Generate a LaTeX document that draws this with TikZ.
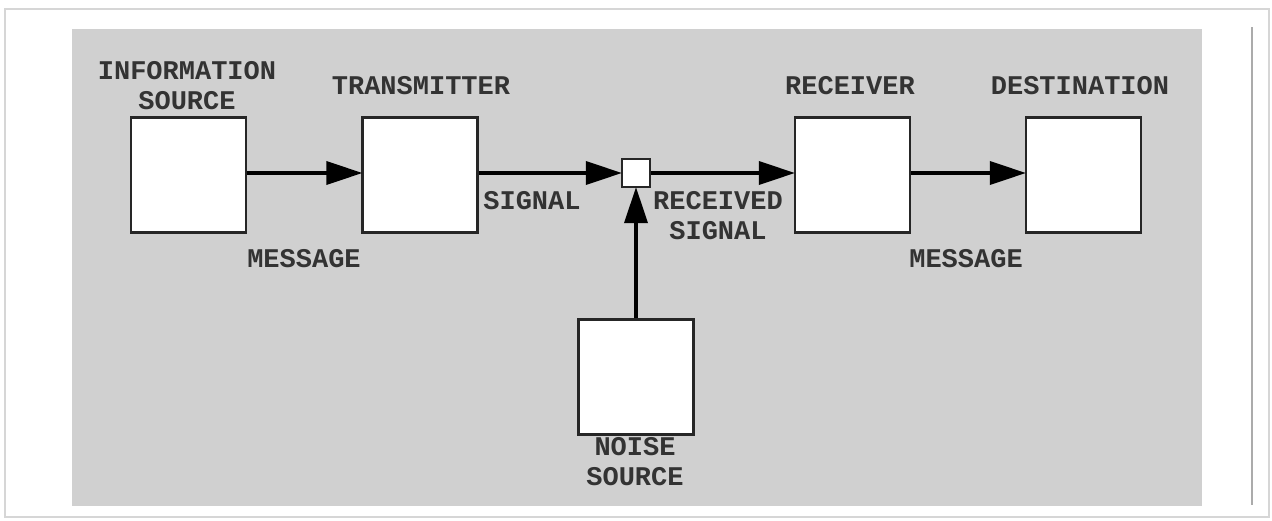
\documentclass[tikz,border=0pt]{standalone}
\usepackage{fontspec}
\setmonofont{Liberation Mono}
\usetikzlibrary{arrows.meta}
\definecolor{panel}{HTML}{D0D0D0}
\definecolor{frameline}{HTML}{D6D6D6}
\tikzset{
  x=1pt, y=-1pt,
  block/.style={draw=black!85, line width=2.2pt, fill=white, minimum width=115pt, minimum height=115pt, inner sep=0pt},
  junction/.style={draw=black!85, line width=2.2pt, fill=white, minimum width=28pt, minimum height=28pt, inner sep=0pt},
  lbl/.style={font=\ttfamily\bfseries\fontsize{27}{30}\selectfont, text=black!80, align=center, inner sep=0pt},
  flow/.style={line width=3.6pt, black, -{Triangle[length=36pt, width=23pt]}, shorten >=-1pt},
}
\begin{document}
\begin{tikzpicture}
  % page and frame
  \useasboundingbox (0,0) rectangle (1272,520);
  \fill[white] (0,0) rectangle (1272,520);
  \draw[frameline, line width=2pt] (5,9) -- (1269,9) -- (1269,517) -- (5,517) -- cycle;
  \draw[frameline!80!black, line width=2.5pt] (1252,27) -- (1252,505);
  \fill[panel] (72,29) rectangle (1202,506);

  % blocks
  \node[block] (src) at (188.5,175) {};
  \node[block] (tx)  at (420,175) {};
  \node[junction] (jn) at (636,173) {};
  \node[block] (rx)  at (852.5,175) {};
  \node[block] (dst) at (1083.5,175) {};
  \node[block] (ns)  at (636,377) {};

  % connectors
  \draw[flow] (src.east |- 0,173) -- (tx.west |- 0,173);
  \draw[flow] (tx.east |- 0,173) -- (jn.west);
  \draw[flow] (jn.east) -- (rx.west |- 0,173);
  \draw[flow] (rx.east |- 0,173) -- (dst.west |- 0,173);
  \draw[flow] (ns.north) -- (jn.south);

  % labels
  \node[lbl] (lsrc) at (187,86) {INFORMATION\\SOURCE};
  \node[lbl] (ltx)  at (421,86) {TRANSMITTER};
  \node[lbl] (lrx)  at (850,86) {RECEIVER};
  \node[lbl] (ldst) at (1080,86) {DESTINATION};
  \node[lbl] (lm1)  at (304,259) {MESSAGE};
  \node[lbl] (lsig) at (532,201) {SIGNAL};
  \node[lbl] (lrs)  at (718,216) {RECEIVED\\SIGNAL};
  \node[lbl] (lm2)  at (966,259) {MESSAGE};
  \node[lbl] (lns)  at (635,462) {NOISE\\SOURCE};
\end{tikzpicture}
\end{document}
